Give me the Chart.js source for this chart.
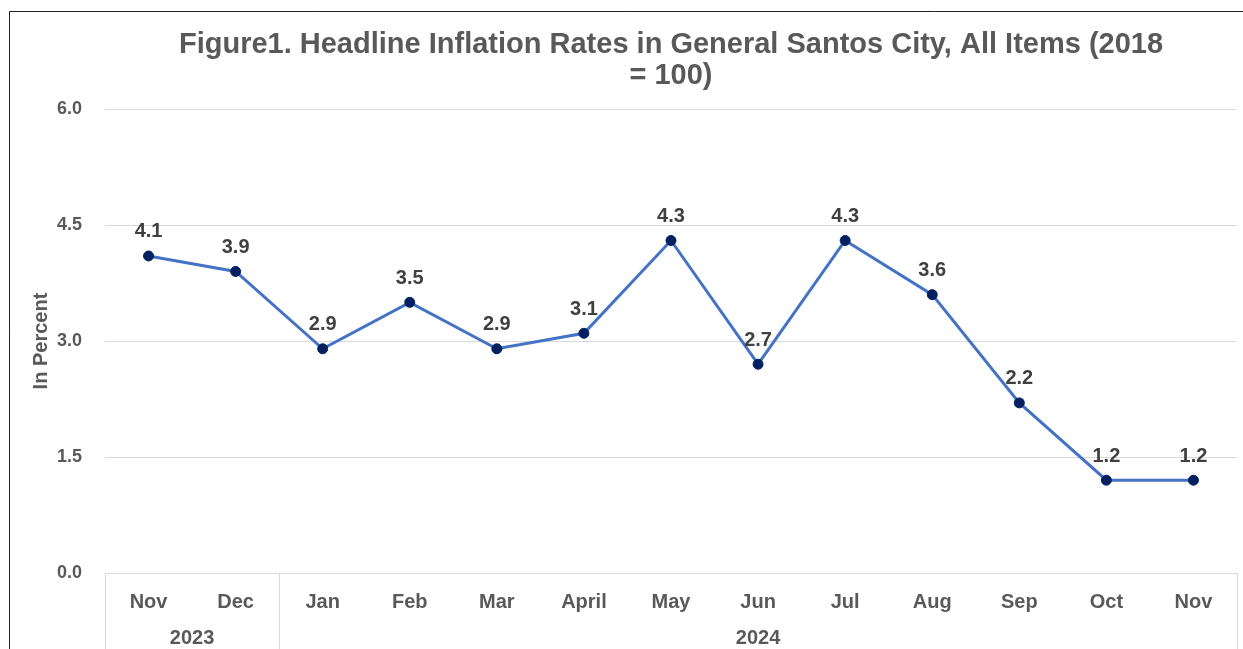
<!DOCTYPE html>
<html>
<head>
<meta charset="utf-8">
<script src="https://cdn.jsdelivr.net/npm/chart.js@4/dist/chart.umd.min.js"></script>
<style>
  html, body { margin: 0; padding: 0; background: #fff; }
  #wrap { position: relative; width: 1243px; height: 649px; }
</style>
</head>
<body>
<div id="wrap"><canvas id="chart"></canvas></div>
<script>
// Headline inflation, General Santos City (2018 = 100)
var months = ['Nov', 'Dec', 'Jan', 'Feb', 'Mar', 'April', 'May', 'Jun', 'Jul', 'Aug', 'Sep', 'Oct', 'Nov'];
var rates = [4.1, 3.9, 2.9, 3.5, 2.9, 3.1, 4.3, 2.7, 4.3, 3.6, 2.2, 1.2, 1.2];
var years = ['2023', '2024'];
var monthsPerYear = [2, 11];
var yTicks = [0, 1.5, 3.0, 4.5, 6.0];

var FONT = '"Liberation Sans", Arial, sans-serif';
var GREY = '#595959';
var GRID = '#d9d9d9';

// outer frame, y title, year groups on the x axis, value labels
var extras = {
  id: 'extras',
  afterDraw: function (chart) {
    var ctx = chart.ctx;
    var area = chart.chartArea;
    var x = chart.scales.x;
    var H = chart.height;
    ctx.save();

    // frame (only left/top visible in the reference)
    ctx.strokeStyle = '#222';
    ctx.lineWidth = 1;
    ctx.beginPath();
    ctx.moveTo(9.5, H);
    ctx.lineTo(9.5, 11.5);
    ctx.lineTo(chart.width, 11.5);
    ctx.stroke();

    // y title
    ctx.fillStyle = GREY;
    ctx.font = 'bold 20px ' + FONT;
    ctx.textAlign = 'center';
    ctx.textBaseline = 'middle';
    ctx.translate(41, (area.top + area.bottom) / 2);
    ctx.rotate(-Math.PI / 2);
    ctx.fillText('In Percent', 0, 0);
    ctx.setTransform(1, 0, 0, 1, 0, 0);

    // year group separators + labels
    var edges = [area.left];
    var idx = 0;
    monthsPerYear.forEach(function (n, g) {
      idx += n;
      var right = idx >= months.length
        ? area.right
        : (x.getPixelForValue(idx - 1) + x.getPixelForValue(idx)) / 2;
      edges.push(right);
      var left = edges[g];
      ctx.fillStyle = GREY;
      ctx.font = 'bold 20px ' + FONT;
      ctx.textAlign = 'center';
      ctx.textBaseline = 'middle';
      ctx.fillText(years[g], (left + right) / 2, 638);
    });
    ctx.strokeStyle = GRID;
    ctx.lineWidth = 1;
    edges.forEach(function (ex) {
      var px = Math.round(ex) + 0.5;
      ctx.beginPath();
      ctx.moveTo(px, area.bottom);
      ctx.lineTo(px, H);
      ctx.stroke();
    });

    // value labels
    var meta = chart.getDatasetMeta(0);
    ctx.fillStyle = '#404040';
    ctx.font = 'bold 20px ' + FONT;
    ctx.textAlign = 'center';
    ctx.textBaseline = 'middle';
    meta.data.forEach(function (pt, i) {
      ctx.fillText(rates[i].toFixed(1), pt.x, pt.y - 24);
    });
    ctx.restore();
  }
};

new Chart(document.getElementById('chart'), {
  type: 'line',
  data: {
    labels: months,
    datasets: [{
      data: rates,
      borderColor: '#4472C4',
      borderWidth: 3,
      pointRadius: 5,
      pointHoverRadius: 5,
      pointBackgroundColor: '#002060',
      pointBorderColor: '#002060',
      pointBorderWidth: 1,
      tension: 0,
      fill: false
    }]
  },
  options: {
    responsive: true,
    maintainAspectRatio: false,
    animation: false,
    layout: { padding: { left: 0, right: 0, top: 0, bottom: 0 } },
    plugins: {
      legend: { display: false },
      tooltip: { enabled: false },
      title: {
        display: true,
        fullSize: false,
        text: ['Figure1. Headline Inflation Rates in General Santos City, All Items (2018', '= 100)'],
        color: GREY,
        font: { family: FONT, size: 29, weight: 'bold', lineHeight: 1.07 },
        padding: { top: 29.5, bottom: 17.5 }
      }
    },
    scales: {
      x: {
        offset: true,
        grid: { display: false, drawTicks: false },
        border: { display: true, color: GRID, width: 1 },
        ticks: {
          color: GREY,
          font: { family: FONT, size: 20, weight: 'bold' },
          padding: 17,
          maxRotation: 0,
          autoSkip: false
        },
        afterFit: function (s) { s.height = 76; }
      },
      y: {
        min: 0,
        max: 6,
        afterBuildTicks: function (s) {
          s.ticks = yTicks.map(function (v) { return { value: v }; });
        },
        grid: { color: GRID, lineWidth: 1, drawTicks: false },
        border: { display: false },
        ticks: {
          color: GREY,
          font: { family: FONT, size: 18, weight: 'bold' },
          padding: 23,
          callback: function (v) { return Number(v).toFixed(1); }
        },
        afterFit: function (s) { s.width = 105; }
      }
    }
  },
  plugins: [extras]
});
</script>
</body>
</html>
